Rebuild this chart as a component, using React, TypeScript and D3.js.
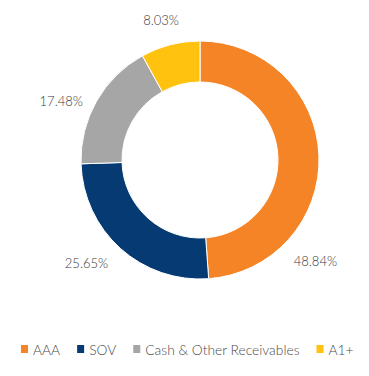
import React, { useEffect, useRef } from 'react';
import * as d3 from 'd3';

const categories = ['AAA', 'SOV', 'Cash & Other Receivables', 'A1+'];
const values = [48.84, 25.65, 17.48, 8.03];
const colors = ['#F58426', '#053A72', '#A6A6A6', '#FFC20E'];

const width = 369;
const height = 376;
const cx = 200;
const cy = 160;
const outerR = 119;
const innerR = 78;
const font = 'Lato, "Open Sans", sans-serif';

export default function App() {
  const ref = useRef<SVGSVGElement | null>(null);

  useEffect(() => {
    const svg = d3.select(ref.current);
    svg.selectAll('*').remove();

    const data = categories.map((name, i) => ({ name, value: values[i], color: colors[i] }));
    const pie = d3.pie<any>().value(d => d.value).sort(null);
    const arcs = pie(data);
    const arc = d3.arc<any>().innerRadius(innerR).outerRadius(outerR);

    const g = svg.append('g').attr('transform', `translate(${cx},${cy})`);
    g.selectAll('path')
      .data(arcs)
      .enter()
      .append('path')
      .attr('d', arc)
      .attr('fill', d => d.data.color)
      .attr('stroke', '#fff')
      .attr('stroke-width', 1);

    // labels outside the ring; AAA label sits on its lower part (best fit)
    const labelR = 138;
    arcs.forEach(d => {
      let a = (d.startAngle + d.endAngle) / 2;
      if (d.data.name === 'AAA') a = d.startAngle + (d.endAngle - d.startAngle) * 0.78;
      const t = g.append('text')
        .attr('font-family', font)
        .attr('font-weight', 300)
        .attr('font-size', 13)
        .attr('fill', '#3a3a3a')
        .attr('text-anchor', 'middle')
        .attr('dominant-baseline', 'central')
        .text(d.data.value.toFixed(2) + '%');
      const w = (t.node() as SVGTextElement).getComputedTextLength();
      const s = Math.sin(a), c = Math.cos(a);
      let x = (labelR + w / 2) * s;
      let y = -labelR * c;
      if (c > 0) y += -7 * c + (s < 0 ? 14 * -s * (1 - c) * 2 : 0);
      else x += 10 * s;
      t.attr('x', x).attr('y', y);
    });

    // legend
    const legend = svg.append('g').attr('transform', 'translate(21,349)');
    let x = 0;
    data.forEach(d => {
      legend.append('rect')
        .attr('x', x).attr('y', -4)
        .attr('width', 7).attr('height', 8)
        .attr('fill', d.color);
      const t = legend.append('text')
        .attr('x', x + 12)
        .attr('y', 0)
        .attr('dominant-baseline', 'central')
        .attr('font-family', font)
        .attr('font-weight', 300)
        .attr('font-size', 13.8)
        .attr('fill', '#4a4a4a')
        .text(d.name);
      x += 12 + (t.node() as SVGTextElement).getComputedTextLength() + 17;
    });
  }, []);

  return (
    <svg
      ref={ref}
      width={width}
      height={height}
      style={{ position: 'absolute', left: 0, top: 0, background: '#fff' }}
    />
  );
}
